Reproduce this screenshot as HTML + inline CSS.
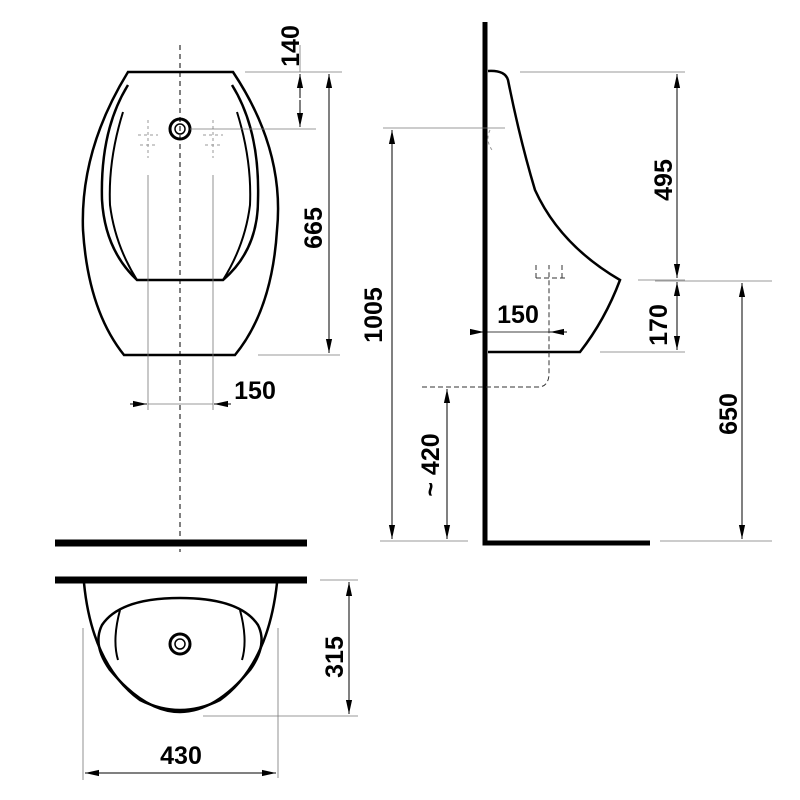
<!DOCTYPE html>
<html><head><meta charset="utf-8"><style>body{margin:0;background:#fff}svg{display:block}text{font-family:"Liberation Sans",sans-serif;font-weight:bold;font-size:25px;fill:#000}</style></head><body>
<svg width="800" height="800" viewBox="0 0 800 800" xmlns="http://www.w3.org/2000/svg">
<defs><marker id="a" viewBox="0 0 10 10" refX="10" refY="5" markerWidth="14" markerHeight="14" orient="auto-start-reverse"><path d="M0,2.8 L10,5 L0,7.2 z" fill="#000"/></marker></defs>
<g fill="none" stroke="#000">
<!-- front view -->
<line x1="180" y1="45" x2="180" y2="552" stroke-width="1" stroke-dasharray="5,4"/>
<path d="M128,72 L233,72 Q285,150 277,230 Q272,310 235,355 L124,355 Q88,310 83,230 Q80,150 128,72 Z" stroke-width="2.5"/>
<path d="M128,85 Q100,130 102,200 Q105,250 137,280 L223,280 Q258,250 258,200 Q260,130 232,85" stroke-width="2.5"/>
<path d="M123,112 Q108,160 110,205 Q115,245 137,280 M237,112 Q252,160 250,205 Q245,245 223,280" stroke-width="2"/>
<circle cx="180" cy="129" r="10" stroke-width="3"/><circle cx="180" cy="129" r="5" stroke-width="1.5"/>
<g stroke-width="1" stroke="#999" stroke-dasharray="3,3"><path d="M148,120 V158 M138,135 H158 M213,120 V158 M203,135 H223 M140,145 H156 M205,145 H221"/></g>
<g stroke-width="0.8" stroke="#777"><line x1="148" y1="175" x2="148" y2="410"/><line x1="213" y1="175" x2="213" y2="410"/>
<line x1="245" y1="72" x2="342" y2="72"/><line x1="190" y1="129" x2="316" y2="129"/><line x1="258" y1="355" x2="340" y2="355"/></g>
<line x1="300" y1="45" x2="300" y2="72" stroke-width="0.8" stroke="#777"/>
<line x1="300" y1="74" x2="300" y2="98" stroke-width="1" marker-start="url(#a)"/>
<line x1="300" y1="100" x2="300" y2="127" stroke-width="1" marker-end="url(#a)"/>
<line x1="329" y1="74" x2="329" y2="353" stroke-width="1" marker-start="url(#a)" marker-end="url(#a)"/>
<line x1="130" y1="404" x2="147" y2="404" stroke-width="1" marker-end="url(#a)"/>
<line x1="148" y1="404" x2="213" y2="404" stroke-width="0.8" stroke="#777"/>
<line x1="231" y1="404" x2="214" y2="404" stroke-width="1" marker-end="url(#a)"/>
<!-- side view -->
<path d="M485,22 V543 H650" stroke-width="5"/>
<path d="M488,71 Q505,70 508,80 Q520,140 535,190 Q560,245 620,280 Q605,320 580,352 L488,352" stroke-width="2.5"/>
<g stroke-width="1" stroke="#333" stroke-dasharray="5,3"><path d="M422,387 H538 Q548,387 549,375 V265 M536,265 V280 M562,265 V280 M536,278 H566"/></g>
<path d="M490,130 Q485,140 492,150" stroke-width="1" stroke="#999" stroke-dasharray="3,3"/>
<g stroke-width="0.8" stroke="#777"><line x1="520" y1="72" x2="685" y2="72"/><line x1="638" y1="280" x2="685" y2="280"/><line x1="655" y1="281" x2="772" y2="281"/>
<line x1="600" y1="352" x2="685" y2="352"/><line x1="660" y1="541" x2="772" y2="541"/><line x1="383" y1="128" x2="505" y2="128"/><line x1="380" y1="541" x2="468" y2="541"/></g>
<line x1="677" y1="74" x2="677" y2="278" stroke-width="1" marker-start="url(#a)" marker-end="url(#a)"/>
<line x1="677" y1="282" x2="677" y2="350" stroke-width="1" marker-start="url(#a)" marker-end="url(#a)"/>
<line x1="742" y1="283" x2="742" y2="539" stroke-width="1" marker-start="url(#a)" marker-end="url(#a)"/>
<line x1="392" y1="130" x2="392" y2="539" stroke-width="1" marker-start="url(#a)" marker-end="url(#a)"/>
<line x1="447" y1="389" x2="447" y2="539" stroke-width="1" marker-start="url(#a)" marker-end="url(#a)"/>
<line x1="470" y1="332" x2="484" y2="332" stroke-width="1" marker-end="url(#a)"/>
<line x1="487" y1="332" x2="550" y2="332" stroke-width="0.8"/>
<line x1="567" y1="332" x2="550" y2="332" stroke-width="1" marker-end="url(#a)"/>
<!-- plan view -->
<line x1="55" y1="543" x2="307" y2="543" stroke-width="7"/>
<line x1="55" y1="580" x2="307" y2="580" stroke-width="7"/>
<path d="M84,583 Q92,665 140,700 Q180,720 220,700 Q268,665 277,583" stroke-width="2.5"/>
<path d="M180,598 Q240,598 258,625 Q268,645 250,670 Q215,712 180,712 Q145,712 110,670 Q92,645 102,625 Q120,598 180,598 Z" stroke-width="2.5"/>
<path d="M120,610 Q112,640 118,660 M240,610 Q248,640 242,660" stroke-width="2"/>
<circle cx="180" cy="644" r="10" stroke-width="3"/><circle cx="180" cy="644" r="5" stroke-width="1.5"/>
<g stroke-width="0.8" stroke="#777"><line x1="83" y1="628" x2="83" y2="780"/><line x1="278" y1="628" x2="278" y2="778"/>
<line x1="320" y1="580" x2="358" y2="580"/><line x1="203" y1="716" x2="358" y2="716"/></g>
<line x1="349" y1="582" x2="349" y2="714" stroke-width="1" marker-start="url(#a)" marker-end="url(#a)"/>
<line x1="85" y1="773" x2="276" y2="773" stroke-width="1" marker-start="url(#a)" marker-end="url(#a)"/>
</g>
<text transform="translate(299,46) rotate(-90)" text-anchor="middle">140</text>
<text transform="translate(322,228) rotate(-90)" text-anchor="middle">665</text>
<text x="255" y="399" text-anchor="middle">150</text>
<text transform="translate(672,180) rotate(-90)" text-anchor="middle">495</text>
<text transform="translate(667,325) rotate(-90)" text-anchor="middle">170</text>
<text transform="translate(737,414) rotate(-90)" text-anchor="middle">650</text>
<text transform="translate(382,315) rotate(-90)" text-anchor="middle">1005</text>
<text transform="translate(439,465) rotate(-90)" text-anchor="middle">~ 420</text>
<text x="518" y="323" text-anchor="middle">150</text>
<text transform="translate(343,657) rotate(-90)" text-anchor="middle">315</text>
<text x="181" y="764" text-anchor="middle">430</text>
</svg>
</body></html>
